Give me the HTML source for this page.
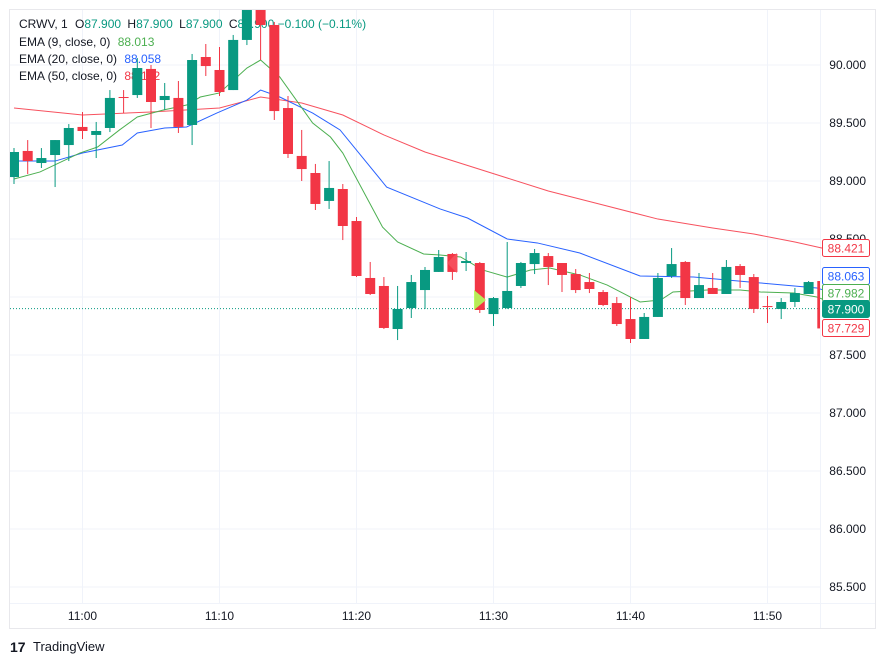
<!DOCTYPE html>
<html><head><meta charset="utf-8"><style>
html,body{margin:0;padding:0;background:#fff;}
svg{display:block;font-family:"Liberation Sans",sans-serif;}
</style></head><body>
<svg id="chart" width="886" height="664" viewBox="0 0 886 664">
<rect x="9.5" y="9.5" width="866" height="619" fill="#fff" stroke="#e8e8ec"/>
<g id="grid"></g>
<g id="legend">
<text x="19" y="28" font-size="12" fill="#131722">CRWV, 1 <tspan dx="4">O</tspan><tspan fill="#089981">87.900</tspan> <tspan dx="3">H</tspan><tspan fill="#089981">87.900</tspan> <tspan dx="3">L</tspan><tspan fill="#089981">87.900</tspan> <tspan dx="3">C</tspan><tspan fill="#089981">87.900 −0.100 (−0.11%)</tspan></text>
<text x="19" y="46" font-size="12" fill="#131722">EMA (9, close, 0) <tspan dx="4" fill="#4caf50">88.013</tspan></text>
<text x="19" y="63" font-size="12" fill="#131722">EMA (20, close, 0) <tspan dx="4" fill="#2962ff">88.058</tspan></text>
<text x="19" y="80" font-size="12" fill="#131722">EMA (50, close, 0) <tspan dx="4" fill="#f23645">88.112</tspan></text>
</g>
<g id="lines"></g>
<g id="candles"></g>
<g id="axis"></g>
<g id="tlabels"></g>
<text x="33" y="651" font-size="13" fill="#131722">TradingView</text>
<text x="10" y="652" font-size="14" font-weight="bold" fill="#131722">17</text>
</svg>
<script>
const opens=[89.034,89.259,89.155,89.224,89.310,89.466,89.397,89.457,89.724,89.741,89.966,89.698,89.716,89.483,90.069,89.957,89.784,90.216,90.474,90.345,89.629,89.216,89.069,88.828,88.931,88.655,88.164,88.095,87.724,87.905,88.060,88.216,88.371,88.293,88.293,87.853,87.905,88.095,88.284,88.353,88.293,88.198,88.129,88.043,87.948,87.810,87.638,87.828,88.181,88.302,87.991,88.078,88.026,88.267,88.172,87.922,87.897,87.957,88.026,88.138];
const highs=[89.284,89.353,89.284,89.353,89.491,89.595,89.509,89.784,89.784,90.060,90.000,89.845,89.862,90.095,90.181,90.155,90.259,90.491,90.474,90.371,89.733,89.440,89.147,89.172,88.974,88.690,88.302,88.172,88.095,88.190,88.259,88.405,88.379,88.388,88.302,88.000,88.474,88.302,88.414,88.379,88.293,88.241,88.207,88.060,88.000,88.000,87.862,88.207,88.422,88.310,88.207,88.207,88.319,88.284,88.198,88.009,87.991,88.078,88.138,88.138];
const lows=[88.974,89.060,89.112,88.948,89.172,89.362,89.198,89.422,89.586,89.716,89.457,89.612,89.414,89.310,89.905,89.733,89.784,90.172,90.043,89.526,89.198,89.000,88.750,88.759,88.491,88.172,88.017,87.724,87.629,87.819,87.897,88.216,88.147,88.224,87.862,87.750,87.897,88.078,88.198,88.103,88.043,88.034,88.034,87.922,87.750,87.603,87.638,87.828,88.164,87.931,87.991,88.026,88.026,88.078,87.862,87.776,87.810,87.914,88.026,87.729];
const closes=[89.250,89.172,89.198,89.353,89.457,89.431,89.431,89.716,89.716,89.974,89.681,89.733,89.466,90.043,89.991,89.767,90.216,90.474,90.345,89.603,89.233,89.103,88.802,88.940,88.612,88.181,88.026,87.733,87.897,88.129,88.233,88.345,88.216,88.310,87.888,87.991,88.052,88.293,88.379,88.259,88.190,88.060,88.069,87.931,87.767,87.638,87.828,88.164,88.284,87.991,88.103,88.026,88.259,88.190,87.897,87.914,87.957,88.034,88.129,87.729];
const ema9T=[0,1.9,4.8,6.1,7.7,9,10.9,12.6,13.6,15,17,18,19.4,21.8,23.1,24,26.9,28,29.9,31.1,32.6,34.2,36,37.7,39.1,41.3,43.3,45.7,47.2,48.1,50.6,53,54.5,56.9,58.6,59];
const ema9V=[89.017,89.078,89.241,89.293,89.440,89.552,89.612,89.655,89.724,89.759,89.974,90.043,89.897,89.500,89.379,89.241,88.603,88.474,88.371,88.362,88.345,88.233,88.172,88.233,88.250,88.190,88.103,87.957,87.974,88.043,88.060,88.060,88.043,88.034,88.000,87.982];
const ema20T=[0,3,5,7.9,9,11,12.6,14.8,17,18,19.4,21.8,23.8,27.2,31.1,33.1,36,38.2,41.3,45.7,49.6,54.5,58.6,59];
const ema20V=[89.172,89.172,89.241,89.310,89.414,89.457,89.466,89.586,89.698,89.784,89.724,89.586,89.440,88.948,88.759,88.681,88.500,88.466,88.379,88.181,88.172,88.121,88.078,88.063];
const ema50T=[0,5,10,15,18,21,24,27,30,33,36,39,43,47,51,54,57,59];
const ema50V=[89.629,89.569,89.595,89.629,89.724,89.672,89.569,89.397,89.250,89.138,89.026,88.914,88.793,88.672,88.595,88.543,88.474,88.421];
const priceTicks=[90.0,89.5,89.0,88.5,88.0,87.5,87.0,86.5,86.0,85.5];
const timeTicks=["11:00","11:10","11:20","11:30","11:40","11:50"];
const timeTickIdx=[5,15,25,35,45,55];

const NS="http://www.w3.org/2000/svg";
const PL=10,PR=820,PT=10,PB=603;
const y=p=>65+(90-p)*116;
const x=i=>14+i*13.7;
function mk(tag,attrs,parent){const e=document.createElementNS(NS,tag);for(const k in attrs)e.setAttribute(k,attrs[k]);parent.appendChild(e);return e;}
const grid=document.getElementById('grid'),axis=document.getElementById('axis'),tl=document.getElementById('tlabels');
priceTicks.forEach(p=>{
  const l=mk('line',{x1:PL,x2:PR,y1:y(p),y2:y(p),stroke:'#f0f3fa'},grid);
  
  
  const t=mk('text',{x:866,y:y(p)+4,'font-size':12,fill:'#131722','text-anchor':'end'},axis);
  t.textContent=p.toFixed(3);
  
  
});
timeTicks.forEach((s,k)=>{
  const xx=x(timeTickIdx[k]);
  const l=mk('line',{x1:xx,x2:xx,y1:PT,y2:PB,stroke:'#f0f3fa'},grid);
  
  
  const t=mk('text',{x:xx,y:620,'font-size':12,fill:'#131722','text-anchor':'middle'},tl);
  t.textContent=s;
  
  
});
mk('line',{x1:820.5,x2:820.5,y1:PT,y2:628,stroke:'#f0f3fa'},grid);
mk('line',{x1:PL,x2:875,y1:603.5,y2:603.5,stroke:'#f0f3fa'},grid);
const lines=document.getElementById('lines');
function ema(T,V,col,name){
  const pl=mk('polyline',{points:T.map((t,i)=>x(t)+','+y(V[i])).join(' '),fill:'none',stroke:col,'stroke-width':1},lines);
  
  
}
ema(ema50T,ema50V,'#f7525f','ema50-line');
ema(ema20T,ema20V,'#2962ff','ema20-line');
ema(ema9T,ema9V,'#4caf50','ema9-line');
const dl=mk('line',{x1:PL,x2:PR,y1:y(87.9),y2:y(87.9),stroke:'#089981','stroke-dasharray':'1 2'},lines);


const cg=document.getElementById('candles');
const clip=mk('clipPath',{id:'pc'},document.getElementById('chart'));
mk('rect',{x:PL,y:PT,width:PR-PL,height:PB-PT},clip);
cg.setAttribute('clip-path','url(#pc)');
opens.forEach((o,i)=>{
  const c=closes[i],up=c>=o,col=up?'#089981':'#f23645',cx=x(i);
  const g=mk('g',{},cg);
  
  
  mk('line',{x1:cx,x2:cx,y1:y(highs[i]),y2:y(lows[i]),stroke:col,'stroke-width':1},g);
  const top=y(Math.max(o,c)),h=Math.max(1,Math.abs(y(o)-y(c)));
  mk('rect',{x:cx-5,y:top,width:10,height:h,fill:col},g);
});
const m1=mk('polygon',{points:'447,263 457,253 457,273',fill:'#f7525f',opacity:0.85},cg);


const m2=mk('polygon',{points:'474,290 486,300 474,310',fill:'#b2ff59',opacity:0.9},cg);


const tags=[[88.421,248,'#f23645',false,'ema50-price-tag'],[88.063,276,'#2962ff',false,'ema20-price-tag'],[87.982,293,'#4caf50',false,'ema9-price-tag'],[87.900,309,'#089981',true,'last-price-tag'],[87.729,328,'#f23645',false,'low-price-tag']];
tags.forEach(t=>{
  const g=mk('g',{},axis);
  
  
  mk('rect',{x:822.5,y:t[1]-8.5,width:47,height:17,rx:2,fill:t[3]?t[2]:'#fff',stroke:t[2]},g);
  const tx=mk('text',{x:846,y:t[1]+4.5,'font-size':12,'text-anchor':'middle',fill:t[3]?'#fff':t[2]},g);
  tx.textContent=t[0].toFixed(3);
});
</script>
</body></html>
